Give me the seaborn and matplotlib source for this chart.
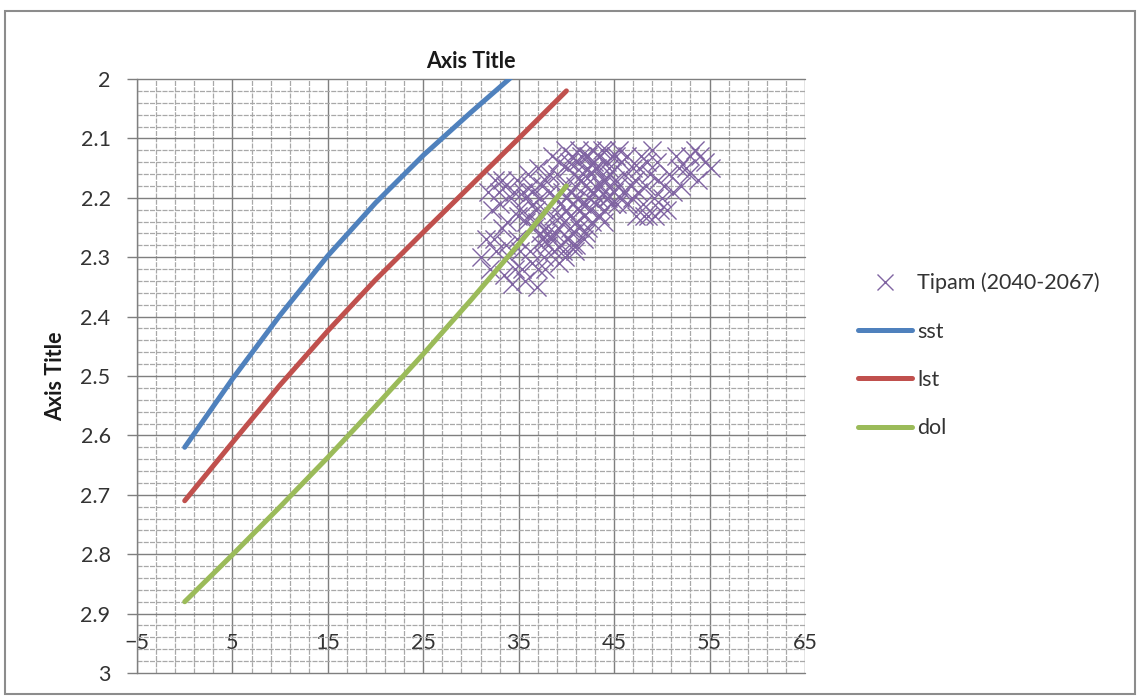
import matplotlib
matplotlib.use("Agg")
import matplotlib.pyplot as plt
from matplotlib.lines import Line2D
from matplotlib.patches import Rectangle
from matplotlib.ticker import FixedLocator, MultipleLocator, FuncFormatter
import numpy as np
import seaborn as sns

# Stage curves
sst_x = [0, 5, 10, 15, 20, 25, 30, 35]
sst_y = [2.62, 2.505, 2.3975, 2.2975, 2.2085, 2.1285, 2.056, 1.986]

lst_x = [0, 5, 10, 15, 20, 25, 30, 35, 40]
lst_y = [2.71, 2.612, 2.515, 2.424, 2.338, 2.258, 2.179, 2.10, 2.02]

dol_x = [0, 5, 10, 15, 20, 25, 30, 35, 40]
dol_y = [2.88, 2.801, 2.720, 2.637, 2.551, 2.463, 2.372, 2.278, 2.18]

# Tipam observations (2040-2067)
tipam_x = [
    51.5, 52.5, 53.0, 53.8, 54.5, 55.2, 52.0, 50.8, 53.5, 51.2,
    46.3, 47.0, 47.5, 48.0, 48.6, 49.2, 49.8, 50.2, 48.8, 47.8, 46.8, 49.5,
    46.5, 47.3, 48.3, 50.0, 49.0, 46.0,
    37.0, 37.2, 36.9, 37.3,
    37.8, 37.6, 38.0, 37.7,
    38.5, 38.3, 38.6, 38.4, 38.7,
    39.2, 39.0, 39.3, 39.1, 39.4, 39.2,
    39.9, 40.1, 39.8, 40.0, 39.7, 40.2, 39.9,
    40.6, 40.8, 40.5, 40.7, 40.4, 40.6, 40.9,
    41.3, 41.1, 41.5, 41.2, 41.4, 41.3, 41.0,
    42.0, 42.2, 41.9, 42.1, 41.8, 42.0,
    42.7, 42.9, 42.6, 42.8, 42.5, 42.7,
    43.4, 43.2, 43.6, 43.3, 43.5,
    44.1, 44.3, 44.0, 44.2, 43.9,
    44.8, 44.6, 45.0, 44.7,
    45.5, 45.7, 45.4, 45.6,
    31.8, 32.5, 33.0, 33.6, 34.2, 34.8, 35.4, 36.0, 36.5, 32.2, 35.0, 36.3,
    31.0, 31.6, 32.0, 32.6, 33.2, 33.5, 34.0, 34.3, 34.8, 35.3, 35.7, 36.2,
    36.6, 37.0, 35.8, 33.8, 37.5, 36.9,
    37.4, 37.9, 38.2, 38.9, 38.8, 39.5, 39.6, 40.3, 40.4, 40.9, 41.0, 41.7,
    41.6, 41.8, 42.3, 42.4, 42.3, 43.0, 43.1, 43.7, 43.8, 43.9, 44.5, 44.4,
    45.2, 45.1, 45.9, 45.3, 38.1, 40.0, 41.5, 43.0, 44.0, 39.4, 40.7, 37.2,
    36.8, 36.4,
    32.9, 34.5, 35.7, 33.3, 34.9, 36.0,
    47.2, 48.4, 49.6, 50.5, 48.1, 46.9, 49.3, 47.6,
    32.4, 33.7, 35.1, 36.4, 34.6, 37.8,
    52.8, 54.0, 51.8,
]
tipam_y = [
    2.13, 2.15, 2.13, 2.17, 2.14, 2.15, 2.18, 2.16, 2.12, 2.19,
    2.13, 2.15, 2.19, 2.21, 2.23, 2.20, 2.22, 2.18, 2.16, 2.13, 2.18, 2.14,
    2.21, 2.23, 2.18, 2.20, 2.12, 2.16,
    2.15, 2.20, 2.24, 2.28,
    2.17, 2.22, 2.26, 2.30,
    2.13, 2.19, 2.23, 2.27, 2.29,
    2.14, 2.16, 2.21, 2.25, 2.28, 2.31,
    2.12, 2.15, 2.18, 2.22, 2.24, 2.27, 2.30,
    2.13, 2.16, 2.19, 2.21, 2.23, 2.26, 2.29,
    2.12, 2.14, 2.17, 2.20, 2.22, 2.25, 2.28,
    2.13, 2.15, 2.18, 2.21, 2.23, 2.26,
    2.12, 2.14, 2.16, 2.19, 2.22, 2.24,
    2.13, 2.15, 2.18, 2.20, 2.23,
    2.12, 2.14, 2.17, 2.20, 2.22,
    2.13, 2.16, 2.19, 2.21,
    2.12, 2.14, 2.18, 2.20,
    2.19, 2.17, 2.21, 2.18, 2.20, 2.17, 2.19, 2.16, 2.21, 2.22, 2.22, 2.18,
    2.30, 2.27, 2.32, 2.29, 2.25, 2.33, 2.30, 2.345, 2.27, 2.32, 2.34, 2.29,
    2.25, 2.32, 2.24, 2.24, 2.27, 2.35,
    2.18, 2.25, 2.16, 2.20, 2.26, 2.19, 2.29, 2.14, 2.25, 2.18, 2.24, 2.16,
    2.21, 2.27, 2.13, 2.20, 2.25, 2.15, 2.21, 2.12, 2.17, 2.24, 2.15, 2.20,
    2.13, 2.17, 2.19, 2.21, 2.28, 2.20, 2.13, 2.18, 2.19, 2.23, 2.28, 2.26,
    2.22, 2.19,
    2.19, 2.19, 2.20, 2.17, 2.23, 2.23,
    2.17, 2.14, 2.17, 2.22, 2.23, 2.20, 2.23, 2.15,
    2.27, 2.28, 2.29, 2.31, 2.32, 2.32,
    2.16, 2.13, 2.15,
]

x_ticks = [-5, 5, 15, 25, 35, 45, 55, 65]
y_ticks = [2.0, 2.1, 2.2, 2.3, 2.4, 2.5, 2.6, 2.7, 2.8, 2.9, 3.0]

series_labels = ["Tipam (2040-2067)", "sst", "lst", "dol"]
series_colors = ["#8064A2", "#4F81BD", "#C0504D", "#9BBB59"]

sns.set_theme(style="white")
plt.rcParams["font.family"] = ["Lato", "DejaVu Sans"]

W, H = 1140, 697
fig = plt.figure(figsize=(W / 100, H / 100), dpi=100)
ax = fig.add_axes([137 / W, (H - 673) / H, 668 / W, 594 / H])

major_c = "#7f7f7f"
minor_c = "#a8a8a8"
text_c = "#333333"

sns.scatterplot(x=tipam_x, y=tipam_y, marker="x", s=170, color=series_colors[0],
                linewidth=1.0, ax=ax, legend=False, zorder=3)
for xs, ys, c in [(sst_x, sst_y, series_colors[1]),
                  (lst_x, lst_y, series_colors[2]),
                  (dol_x, dol_y, series_colors[3])]:
    sns.lineplot(x=xs, y=ys, color=c, lw=3.6, ax=ax, estimator=None, sort=False,
                 zorder=4, solid_capstyle="round", solid_joinstyle="round")

ax.set_xlim(x_ticks[0], x_ticks[-1])
ax.set_ylim(y_ticks[-1], y_ticks[0])

ax.xaxis.set_major_locator(FixedLocator(x_ticks))
ax.xaxis.set_minor_locator(FixedLocator(np.arange(x_ticks[0], x_ticks[-1] + 1, 2)))
ax.yaxis.set_major_locator(FixedLocator(y_ticks))
ax.yaxis.set_minor_locator(MultipleLocator(0.02))
ax.yaxis.set_major_formatter(FuncFormatter(lambda v, p: f"{v:g}"))

ax.grid(which="major", color=major_c, lw=1.0, ls="-", zorder=1)
ax.grid(which="minor", color=minor_c, lw=0.9, ls=(0, (4, 1)), zorder=1)
for gl in ax.get_xgridlines() + ax.get_ygridlines():
    gl.set_clip_on(False)
ax.set_axisbelow(True)

# horizontal axis crosses at 2.9
ax.spines["bottom"].set_position(("data", 2.9))
ax.spines["bottom"].set_visible(False)
for s in ["top", "right"]:
    ax.spines[s].set_visible(False)
ax.spines["left"].set_color(major_c)
ax.spines["left"].set_linewidth(1.0)

ax.tick_params(axis="x", which="both", length=0, pad=14, labelsize=15.5, labelcolor=text_c)
ax.tick_params(axis="y", which="major", length=7, width=1.0, color=major_c, direction="out",
               pad=12, labelsize=15.5, labelcolor=text_c, left=True)
ax.tick_params(axis="y", which="minor", length=0)

ax.set_xlabel("")
ax.set_ylabel("Axis Title", fontsize=15.5, fontweight="bold", color="#1a1a1a")
ax.yaxis.set_label_coords((66 - 137) / 668, 0.5)
ax.text(0.5, 1 + 17 / 594, "Axis Title", transform=ax.transAxes, ha="center", va="center",
        fontsize=15.5, fontweight="bold", color="#1a1a1a")

handles = [Line2D([], [], ls="none", marker="x", markersize=12, mew=1.0, color=series_colors[0])]
handles += [Line2D([], [], color=c, lw=3.6, solid_capstyle="round") for c in series_colors[1:]]
ax.legend(handles, series_labels, loc="center left", bbox_to_anchor=(858 / W, 1 - 355.5 / H),
          bbox_transform=fig.transFigure, frameon=False, fontsize=15.5, handlelength=2.5,
          handletextpad=0.25, labelspacing=1.32, borderpad=0, borderaxespad=0,
          labelcolor=text_c)

fig.add_artist(Rectangle((5 / W, (H - 694) / H), 1130 / W, 683 / H, transform=fig.transFigure,
                         fill=False, edgecolor="#8c8c8c", lw=1.5))

fig.savefig("out.png", dpi=100)
